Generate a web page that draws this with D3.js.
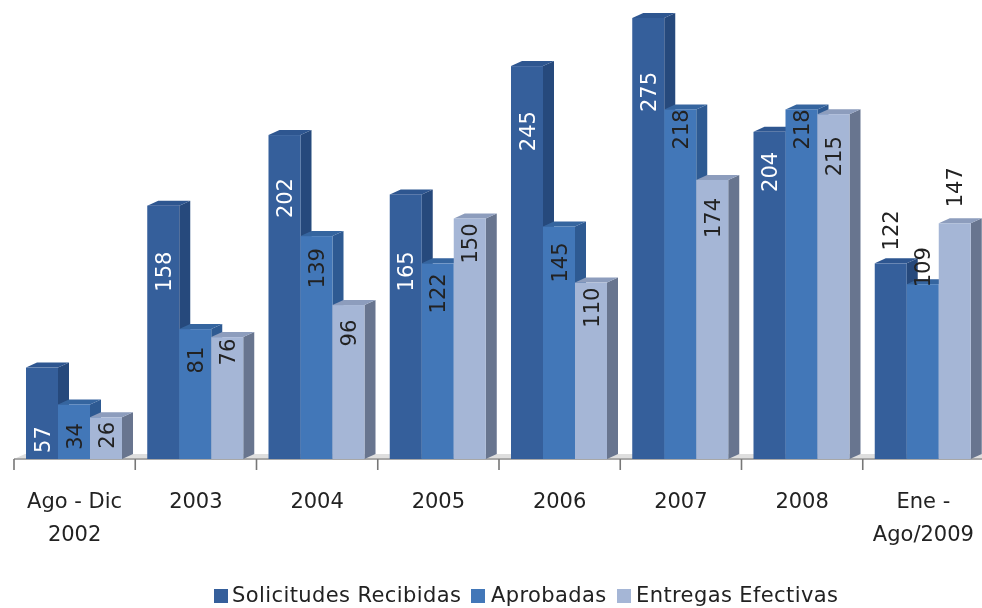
<!DOCTYPE html>
<html>
<head>
<meta charset="utf-8">
<script src="https://cdn.jsdelivr.net/npm/d3@7"></script>
<style>
  html, body { margin: 0; padding: 0; background: #fff; }
  svg { display: block; }
  text { font-family: "DejaVu Sans", sans-serif; fill: #222; }
</style>
</head>
<body>
<svg id="chart" width="982" height="608"></svg>
<script>
const categories = ['Ago - Dic|2002', '2003', '2004', '2005', '2006', '2007', '2008', 'Ene -|Ago/2009']
const seriesNames = ['Solicitudes Recibidas', 'Aprobadas', 'Entregas Efectivas']
const solicitudes = [57, 158, 202, 165, 245, 275, 204, 122]
const aprobadas = [34, 81, 139, 122, 145, 218, 218, 109]
const entregas = [26, 76, 96, 150, 110, 174, 215, 147]

// label centre, px below the top of its bar (negative = above the bar)
const labelShift = [
  [72, 66, 63, 77, 65, 74, 40, -33],
  [32, 31, 32, 30, 36, 20, 20, -17],
  [18, 15, 28, 25, 25, 38, 42, -36]
]

const faceColors = ['#355e9b', '#4377b8', '#a5b6d6']
const topColors = ['#2f5690', '#36659f', '#8d9dbd']
const sideColors = ['#274a7c', '#2f5a92', '#67758f']
const labelColors = ['#fff', '#222', '#222']

const depthX = 11
const depthY = 5
const barWidth = 32

const svg = d3.select('#chart')
const series = [solicitudes, aprobadas, entregas]

const defs = svg.append('defs')
defs.append('filter').attr('id', 'soft')
  .append('feGaussianBlur').attr('stdDeviation', 0.6)

const root = svg.append('g').attr('filter', 'url(#soft)')

const x = d3.scaleBand().domain(categories).range([14, 984])
const y = d3.scaleLinear().domain([0, 275]).range([459, 18])
const bx = d3.scaleBand().domain([0, 1, 2]).range([12, 12 + barWidth * 3])

// floor
const floorY = y(0)
root.append('path')
  .attr('d', `M${x.range()[0]},${floorY} L${x.range()[0] + depthX},${floorY - depthY} L${x.range()[1]},${floorY - depthY} L${x.range()[1]},${floorY} Z`)
  .attr('fill', '#dedede')
root.append('line')
  .attr('x1', x.range()[0]).attr('x2', x.range()[1])
  .attr('y1', floorY).attr('y2', floorY)
  .attr('stroke', '#a8a8a8').attr('stroke-width', 2)

// ticks on the base line
root.append('g').selectAll('line')
  .data(categories.map(c => x(c)))
  .enter()
  .append('line')
  .attr('x1', d => d).attr('x2', d => d)
  .attr('y1', floorY).attr('y2', floorY + 11)
  .attr('stroke', '#777').attr('stroke-width', 1.6)

// bars, one group per category, back to front
categories.forEach((cat, i) => {
  const g = root.append('g').attr('transform', `translate(${x(cat)},0)`)
  series.forEach((values, s) => {
    const left = bx(s)
    const right = left + bx.bandwidth()
    const top = y(values[i])
    g.append('path')
      .attr('d', `M${right},${top} L${right + depthX},${top - depthY} L${right + depthX},${floorY - depthY} L${right},${floorY} Z`)
      .attr('fill', sideColors[s])
    g.append('path')
      .attr('d', `M${left},${top} L${left + depthX},${top - depthY} L${right + depthX},${top - depthY} L${right},${top} Z`)
      .attr('fill', topColors[s])
    g.append('rect')
      .attr('x', left).attr('y', top)
      .attr('width', bx.bandwidth()).attr('height', floorY - top)
      .attr('fill', faceColors[s])
  })
})

// value labels go on top of every bar
categories.forEach((cat, i) => {
  series.forEach((values, s) => {
    const cx = x(cat) + bx(s) + bx.bandwidth() / 2
    const cy = y(values[i]) + labelShift[s][i]
    root.append('text')
      .attr('transform', `translate(${cx},${cy}) rotate(-90)`)
      .attr('text-anchor', 'middle')
      .attr('dy', '0.36em')
      .attr('font-size', 21)
      .style('fill', i === 7 ? '#222' : labelColors[s])
      .text(values[i])
  })
})

// category labels
const catLabels = root.append('g').selectAll('text')
  .data(categories)
  .enter()
  .append('text')
  .attr('text-anchor', 'middle')
  .attr('font-size', 21)
  .attr('x', d => x(d) + x.bandwidth() / 2)
  .attr('y', 508)
catLabels.selectAll('tspan')
  .data(d => d.split('|'))
  .enter()
  .append('tspan')
  .attr('x', function() { return d3.select(this.parentNode).attr('x') })
  .attr('dy', (d, i) => (i === 0 ? 0 : 33))
  .text(d => d)

// legend
const legendItems = [[214, 232], [471, 491], [617, 636]]
const legend = root.append('g')
seriesNames.forEach((name, s) => {
  legend.append('rect')
    .attr('x', legendItems[s][0]).attr('y', 589)
    .attr('width', 14).attr('height', 14)
    .attr('fill', faceColors[s])
  legend.append('text')
    .attr('x', legendItems[s][1]).attr('y', 602)
    .attr('font-size', 21)
    .attr('letter-spacing', 0.4)
    .text(name)
})
</script>
</body>
</html>
